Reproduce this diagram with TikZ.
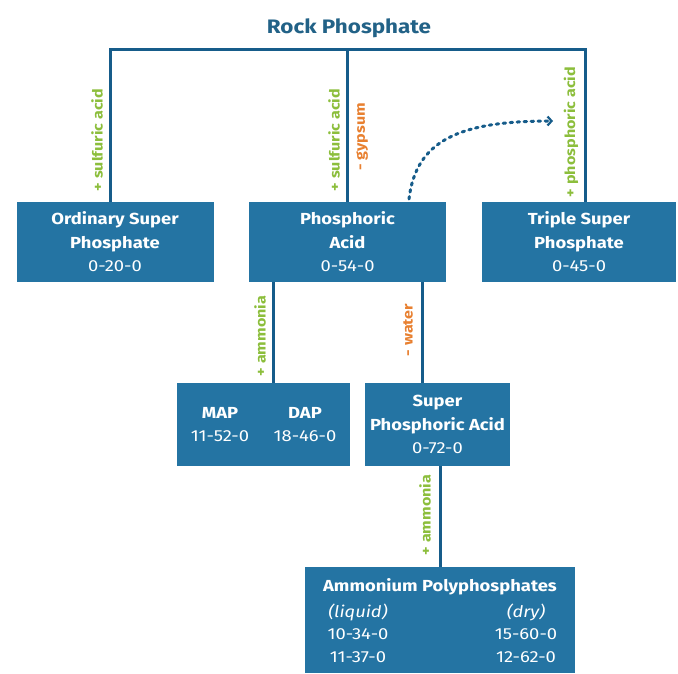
\documentclass[tikz,border=0pt]{standalone}
\usepackage{fontspec}
\setmainfont[FakeStretch=1.15]{Fira Sans}
\usetikzlibrary{arrows.meta}
\definecolor{boxblue}{RGB}{36,116,163}
\definecolor{lineblue}{RGB}{22,92,138}
\definecolor{titleblue}{RGB}{34,98,135}
\definecolor{lblgreen}{RGB}{140,190,60}
\definecolor{lblorange}{RGB}{232,128,48}
\tikzset{
  pbox/.style={fill=boxblue, text=white, align=center, inner sep=0pt, font=\fontsize{16}{23.5}\selectfont},
  conn/.style={draw=lineblue, line width=3pt},
  addlbl/.style={text=lblgreen, font=\bfseries\fontsize{14}{16}\selectfont, rotate=90, inner sep=0pt},
  sublbl/.style={text=lblorange, font=\bfseries\fontsize{14}{16}\selectfont, rotate=90, inner sep=0pt},
  dotarrow/.style={draw=lineblue, line width=3pt, dash pattern=on 2.5pt off 4.5pt, line cap=round,
     -{Straight Barb[length=4pt,width=9pt,line width=2.2pt]}},
}
\begin{document}
\begin{tikzpicture}[x=1pt,y=-1pt]
\useasboundingbox (0,0) rectangle (678,673);
\node[text=titleblue, font=\bfseries\fontsize{19.5}{24}\selectfont] (rp) at (349,28) {Rock Phosphate};
% boxes
\node[pbox, minimum width=197pt, minimum height=80pt] (osp) at (115,242)
  {\textbf{Ordinary Super}\\\textbf{Phosphate}\\0-20-0};
\node[pbox, minimum width=197pt, minimum height=80pt] (pa) at (347.5,242)
  {\textbf{Phosphoric}\\\textbf{Acid}\\0-54-0};
\node[pbox, minimum width=194pt, minimum height=80pt] (tsp) at (579,242)
  {\textbf{Triple Super}\\\textbf{Phosphate}\\0-45-0};
\node[pbox, minimum width=173pt, minimum height=83pt] (md) at (263.5,424.5) {};
\node[pbox] (map) at (220,424.5) {\textbf{MAP}\\11-52-0};
\node[pbox] (dap) at (305,424.5) {\textbf{DAP}\\18-46-0};
\node[pbox, minimum width=145pt, minimum height=83pt] (spa) at (437.5,424.5)
  {\textbf{Super}\\\textbf{Phosphoric Acid}\\0-72-0};
\node[pbox, minimum width=270pt, minimum height=106pt, anchor=north] (app) at (440,567) {};
\node[text=white, font=\bfseries\fontsize{16}{22}\selectfont] (apph) at (440,587) {Ammonium Polyphosphates};
\node[text=white, font=\fontsize{16}{22.5}\selectfont, align=center] (appl) at (358,633)
  {\textit{(liquid)}\\10-34-0\\11-37-0};
\node[text=white, font=\fontsize{16}{22.5}\selectfont, align=center] (appd) at (526,633)
  {\textit{(dry)}\\15-60-0\\12-62-0};
% connectors
\coordinate (tl) at (110,49);
\coordinate (tm) at (347,49);
\coordinate (tr) at (585,49);
\draw[conn] (osp.north -| tl) -- (tl) -- (tr) -- (tsp.north -| tr);
\draw[conn] (pa.north -| tm) -- (tm);
\coordinate (pl) at (273,300);
\coordinate (pr) at (422,300);
\draw[conn] (pa.south -| pl) -- (md.north -| pl);
\draw[conn] (pa.south -| pr) -- (spa.north -| pr);
\coordinate (sl) at (440,500);
\draw[conn] (spa.south -| sl) -- (app.north -| sl);
% dotted arrow
\coordinate (ds) at (409,199);
\coordinate (de) at (553,121);
\draw[dotarrow] (ds) .. controls (416,140) and (460,121) .. (de);
% labels
\node[addlbl] (l1) at (97,140) {+ sulfuric acid};
\node[addlbl] (l2) at (334,140) {+ sulfuric acid};
\node[sublbl] (l3) at (362,137) {- gypsum};
\node[addlbl] (l4) at (571,132) {+ phosphoric acid};
\node[addlbl] (l5) at (260,336) {+ ammonia};
\node[sublbl] (l6) at (408,330) {- water};
\node[addlbl] (l7) at (425,515) {+ ammonia};
\end{tikzpicture}
\end{document}
